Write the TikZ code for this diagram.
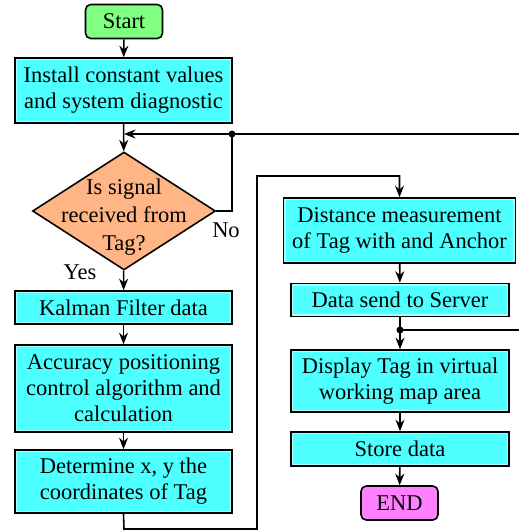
\documentclass[tikz,border=0pt]{standalone}
\usepackage{fontspec}
\setmainfont{Liberation Serif}
\usetikzlibrary{positioning, shapes.geometric, arrows.meta}

\definecolor{boxcyan}{HTML}{4DFFFF}
\definecolor{boxrim}{HTML}{A8FFFF}
\definecolor{startgreen}{HTML}{80FF80}
\definecolor{endpink}{HTML}{FF80FF}
\definecolor{decorange}{HTML}{FFB585}

\tikzset{
    chartfont/.style={font=\fontsize{12.8}{14.8}\selectfont},
    procbox/.style={draw, line width=0.9pt, fill=boxcyan, chartfont, align=center,
        minimum width=4.34cm, inner sep=0pt,
        path picture={\draw[boxrim, line width=2.6pt] (path picture bounding box.south west)
            rectangle (path picture bounding box.north east);}},
    termbox/.style={draw, line width=0.9pt, rounded corners=3pt, chartfont,
        minimum width=1.54cm, minimum height=0.68cm, inner sep=0pt},
    decision/.style={diamond, draw, line width=0.9pt, fill=decorange, inner sep=0pt,
        minimum width=3.66cm, minimum height=2.36cm},
    flow/.style={line width=0.9pt, -{Stealth[length=2.3mm, width=1.8mm]}},
    link/.style={line width=0.9pt},
    joint/.style={fill, circle, inner sep=0pt, minimum size=0.14cm}
}

\begin{document}
\begin{tikzpicture}
    \useasboundingbox (0,0) rectangle (10.38,-10.62);

    % Left column
    \node[termbox, fill=startgreen] (start) at (2.48,-0.43) {Start};
    \node[procbox, minimum height=1.3cm] (install) at (2.47,-1.81) {Install constant values\\and system diagnostic};
    \node[decision] (signal) at (2.48,-4.22) {};
    \node[chartfont, font=\fontsize{12.8}{16}\selectfont, align=center] (signaltext) at (2.48,-4.34) {Is signal\\received from\\Tag?};
    \node[procbox, minimum height=0.66cm] (kalman) at (2.47,-6.15) {Kalman Filter data};
    \node[procbox, minimum height=1.74cm] (accuracy) at (2.47,-7.77) {Accuracy positioning\\control algorithm and\\calculation};
    \node[procbox, minimum height=1.26cm] (coords) at (2.47,-9.63) {Determine x, y the\\coordinates of Tag};

    % Right column
    \node[procbox, minimum width=4.64cm, minimum height=1.3cm] (distance) at (7.99,-4.61) {Distance measurement\\of Tag with and Anchor};
    \node[procbox, minimum width=4.36cm, minimum height=0.66cm] (server) at (8.0,-6.0) {Data send to Server};
    \node[procbox, minimum width=4.36cm, minimum height=1.24cm] (display) at (8.0,-7.62) {Display Tag in virtual\\working map area};
    \node[procbox, minimum width=4.36cm, minimum height=0.68cm] (store) at (8.0,-8.98) {Store data};
    \node[termbox, fill=endpink] (finish) at (7.99,-10.06) {END};

    % Branch labels
    \node[chartfont] (nolabel) at (4.52,-4.6) {No};
    \node[chartfont] (yeslabel) at (1.6,-5.44) {Yes};

    % Junctions and loose ends
    \coordinate (loopin) at (10.38,-2.68);
    \coordinate (merge) at (2.48,-2.68);
    \node[joint] (nojoin) at (4.64,-2.68) {};
    \node[joint] (serverjoin) at (8.0,-6.6) {};
    \coordinate (serverout) at (10.38,-6.6);
    \coordinate (bottomleft) at (2.48,-10.58);
    \coordinate (bottomright) at (5.14,-10.58);
    \coordinate (topright) at (5.14,-3.52);

    % Connectors
    \draw[flow] (start) -- (install);
    \draw[flow] (install) -- (signal);
    \draw[flow] (loopin) -- (merge);
    \draw[link] (signal.east) -| (nojoin.center);
    \draw[flow] (signal) -- (kalman);
    \draw[flow] (kalman) -- (accuracy);
    \draw[flow] (accuracy) -- (coords);
    \draw[flow] (coords.south) -- (bottomleft) -- (bottomright) -- (topright) -| (distance.north);
    \draw[flow] (distance) -- (server);
    \draw[flow] (server) -- (display);
    \draw[link] (serverout) -- (serverjoin.center);
    \draw[flow] (display) -- (store);
    \draw[flow] (store) -- (finish);
\end{tikzpicture}
\end{document}
